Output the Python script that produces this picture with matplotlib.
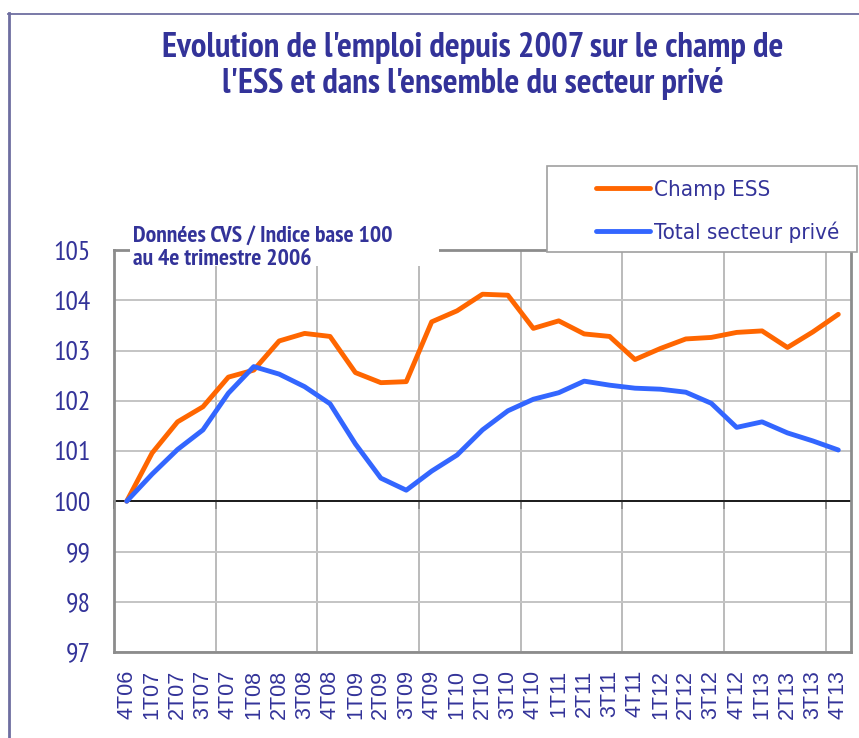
import numpy as np
import matplotlib
matplotlib.use("Agg")
import matplotlib.pyplot as plt
from matplotlib.patches import Rectangle
from matplotlib.lines import Line2D

quarters = ["4T06", "1T07", "2T07", "3T07", "4T07", "1T08", "2T08", "3T08",
            "4T08", "1T09", "2T09", "3T09", "4T09", "1T10", "2T10", "3T10",
            "4T10", "1T11", "2T11", "3T11", "4T11", "1T12", "2T12", "3T12",
            "4T12", "1T13", "2T13", "3T13", "4T13"]
champ_ess = [100.0, 100.96, 101.58, 101.88, 102.47, 102.61, 103.19, 103.34,
             103.28, 102.56, 102.36, 102.38, 103.57, 103.79, 104.12, 104.10,
             103.44, 103.59, 103.33, 103.28, 102.82, 103.04, 103.23, 103.26,
             103.36, 103.39, 103.06, 103.37, 103.72]
total_prive = [100.0, 100.54, 101.03, 101.42, 102.15, 102.68, 102.53, 102.28,
               101.94, 101.14, 100.46, 100.22, 100.60, 100.92, 101.42, 101.80,
               102.03, 102.16, 102.39, 102.31, 102.25, 102.23, 102.17, 101.95,
               101.47, 101.58, 101.36, 101.20, 101.02]
series_names = ["Champ ESS", "Total secteur privé"]
yticks = list(range(97, 106))

navy = "#333399"
W, H = 859, 738
narrow = ["PT Sans Narrow", "Liberation Sans"]
regular = ["Liberation Sans", "DejaVu Sans"]


def fx(px):
    return px / W


def fy(py):
    return 1 - py / H


fig = plt.figure(figsize=(W / 100, H / 100), dpi=100)

# outer frame (only top and left visible)
fig.add_artist(Line2D([fx(8.5), fx(8.5)], [fy(13), 0], color="#6E6EA0", lw=2.0))
fig.add_artist(Line2D([fx(8), 1], [fy(13.5), fy(13.5)], color="#6E6EA0", lw=1.3))

ax = fig.add_axes([fx(114), fy(652), (851 - 114) / W, (652 - 250) / H])
x = np.arange(len(quarters))
ax.plot(x, champ_ess, color="#FF6600", lw=3.5, solid_capstyle="round", zorder=3)
ax.plot(x, total_prive, color="#3366FF", lw=3.5, solid_capstyle="round", zorder=4)
ax.axhline(100, color="black", lw=1.2, zorder=2)

ax.set_xlim(-0.5, len(quarters) - 0.5)
ax.set_ylim(97, 105)
ax.set_yticks(yticks)
ax.set_xticks(x)
ax.set_xticklabels(quarters, rotation=90, family=regular)
ax.set_xticks(np.arange(3.5, len(quarters) - 1, 4), minor=True)
ax.tick_params(axis="x", which="both", length=0, pad=13, labelsize=15.5, labelcolor=navy)
ax.tick_params(axis="y", length=0, pad=17, labelsize=20, labelcolor=navy)
for lab in ax.get_yticklabels():
    lab.set_family(narrow)
ax.grid(axis="y", which="major", color="#C4C4C4", lw=1.4)
ax.grid(axis="x", which="minor", color="#A8A8A8", lw=1.1)
ax.set_axisbelow(True)
for s in ax.spines.values():
    s.set_color("#8C8C8C")
    s.set_linewidth(2)

# category axis crossing at 100
sec = ax.secondary_xaxis((100 - 97) / (105 - 97))
sec.set_xticks(np.arange(-0.5, len(quarters) - 1, 4))
sec.tick_params(direction="out", length=6, width=1.2, color="black", labelbottom=False)
sec.spines["bottom"].set_color("black")
sec.spines["bottom"].set_linewidth(1.2)

fig.text(fx(473), fy(66), "Evolution de l'emploi depuis 2007 sur le champ de\nl'ESS et dans l'ensemble du secteur privé",
         ha="center", va="center", color=navy, fontsize=25, fontweight="bold",
         family=narrow, linespacing=1.15)

# note box over the top of the plot
fig.add_artist(Rectangle((fx(130), fy(266)), fx(439) - fx(130), fy(240) - fy(266),
                         transform=fig.transFigure, facecolor="white", edgecolor="none", zorder=2))
fig.text(fx(133), fy(248), "Données CVS / Indice base 100\nau 4e trimestre 2006",
         ha="left", va="center", color=navy, fontsize=17, fontweight="bold",
         family=narrow, linespacing=1.1, zorder=3)

# legend box
fig.add_artist(Rectangle((fx(547), fy(252)), fx(857) - fx(547), fy(166) - fy(252),
                         transform=fig.transFigure, facecolor="white", edgecolor="#A0A0A0",
                         lw=1.2, zorder=2))
leg = fig.legend(ax.get_lines()[:2], series_names, loc="upper left",
                 bbox_to_anchor=(fx(596), fy(180)), frameon=False, borderpad=0,
                 borderaxespad=0, handlelength=2.45, handletextpad=0.18,
                 labelspacing=0.95,
                 prop={"family": "DejaVu Sans", "stretch": "condensed", "size": 16})
leg.set_zorder(3)
for t in leg.get_texts():
    t.set_color(navy)

fig.savefig("out.png", dpi=100)
